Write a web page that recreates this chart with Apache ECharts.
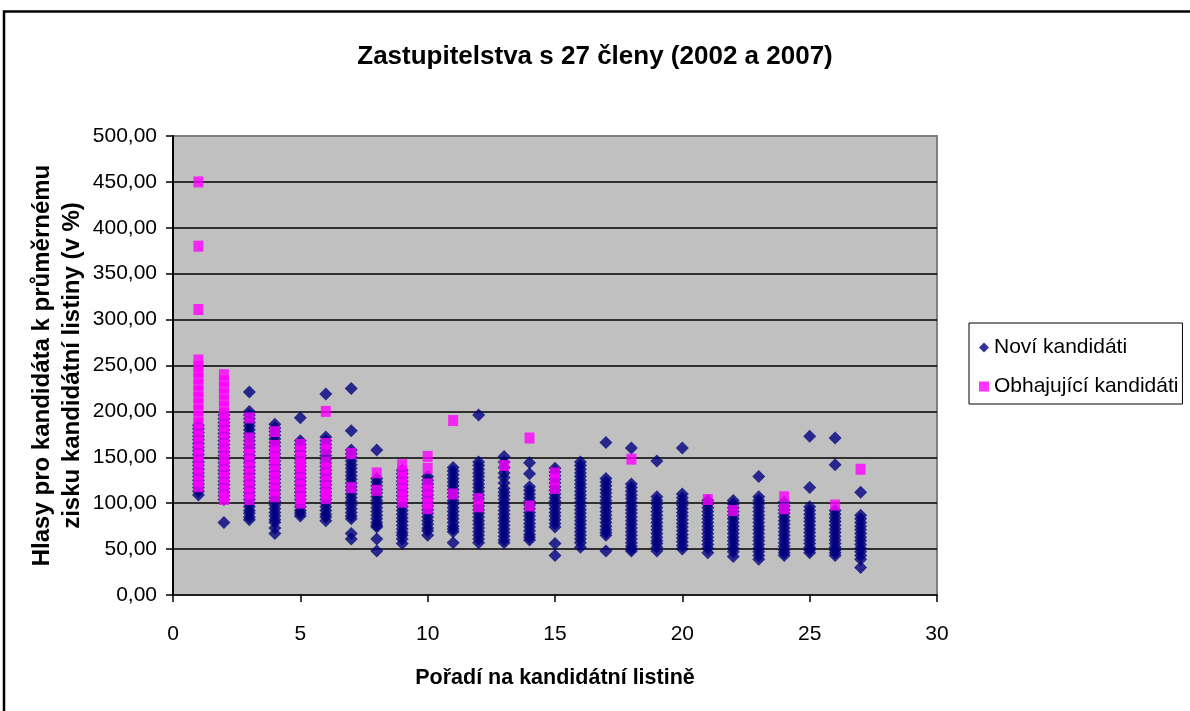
<!DOCTYPE html>
<html>
<head>
<meta charset="utf-8">
<script src="https://cdn.jsdelivr.net/npm/echarts@6/dist/echarts.min.js"></script>
<style>
  html, body { margin: 0; padding: 0; background: #fff; }
  #chart { width: 1190px; height: 711px; }
</style>
</head>
<body>
<div id="chart"></div>
<script>
// Position on the candidate list (x)
const positions = [1,2,3,4,5,6,7,8,9,10,11,12,13,14,15,16,17,18,19,20,21,22,23,24,25,26,27];

// Noví kandidáti — values per position (index i -> position i+1)
const noviKandidati = [
  [185,181,177,173,169,165,161,157,153,149,145,141,137,133,129,125,121,117,113,109],
  [196,192,188,184,180,176,172,168,164,160,156,152,148,144,140,136,132,128,124,120,116,112,108,104,79],
  [221,200,196,192,188,184,180,176,172,168,164,160,156,152,148,144,140,136,132,128,124,120,116,112,108,104,100,96,92,89,85,82],
  [186,182,178,174,170,166,162,158,154,150,146,142,138,134,130,126,122,118,114,110,106,102,98,94,90,86,82,79,73,67],
  [193,168,164,160,156,152,148,144,140,136,132,128,124,120,116,112,108,104,100,96,92,89,86],
  [219,172,168,164,160,156,152,148,144,140,136,132,128,124,120,116,112,108,104,100,96,92,88,85,81],
  [225,179,158,154,150,146,142,138,134,130,126,122,118,114,110,106,102,98,94,90,86,83,67,61],
  [158,127,123,119,115,111,107,103,99,95,91,87,83,79,76,74,61,48],
  [136,132,128,124,120,116,112,108,104,100,96,92,88,84,80,76,72,68,65,61,56],
  [129,125,121,117,113,109,105,101,97,93,89,85,81,77,73,70,65],
  [139,135,131,127,123,119,115,111,107,103,99,95,91,87,83,79,75,72,69,57],
  [196,145,141,137,133,129,125,121,117,113,109,105,101,97,93,89,85,81,77,73,69,65,61,57],
  [151,145,139,133,128,122,116,112,108,104,100,96,92,88,84,80,76,72,68,64,60,57],
  [144,132,118,114,110,106,102,98,94,90,86,82,78,74,70,66,63,60],
  [138,134,130,126,122,118,114,110,106,102,98,94,90,86,82,78,74,56,43],
  [145,141,137,133,129,125,121,117,113,109,105,101,97,93,89,85,81,77,73,69,65,61,57,52],
  [166,127,123,119,115,111,107,103,99,95,91,87,83,79,75,71,68,65,48],
  [160,121,117,113,109,105,101,97,93,89,85,81,77,73,69,65,61,57,53,50,48],
  [146,107,103,99,95,91,87,83,79,75,71,67,63,59,56,52,48],
  [160,110,106,102,98,94,90,86,82,78,74,70,66,62,58,54,50],
  [103,99,95,91,87,83,79,75,71,67,63,59,55,51,46],
  [103,99,95,91,87,83,79,75,71,67,63,59,55,51,47,42],
  [129,107,103,99,95,91,87,83,79,75,71,67,63,59,55,51,47,43,39],
  [101,97,93,89,85,81,77,73,69,65,61,57,53,49,46,43],
  [173,117,96,92,88,84,80,76,72,68,64,60,56,52,49,46],
  [171,142,92,88,84,80,76,72,68,64,60,56,52,49,46,43],
  [112,87,83,79,75,71,67,63,59,55,51,47,43,39,30]
];

// Obhajující kandidáti — values per position
const obhajujiciKandidati = [
  [450,380,311,256,249,243,236,229,222,215,208,201,194,187,180,173,166,159,152,145,138,131,124,118],
  [240,233,226,219,212,205,198,191,184,177,170,163,156,149,142,135,128,121,114,107,104],
  [193,171,160,153,146,139,132,125,118,111,104],
  [178,163,156,149,142,135,128,121,114,107],
  [164,157,150,143,140,133,126,119,112,105,100],
  [200,165,158,145,138,131,124,117,110,105],
  [154,117],
  [133,114],
  [142,135,128,121,114,107,101],
  [151,138,121,114,107,100,94],
  [190,110],
  [105,96],
  [141],
  [171,97],
  [133,126,116],
  [],
  [],
  [148],
  [],
  [],
  [104],
  [92],
  [],
  [107,94],
  [],
  [98],
  [137]
];

const seriesNames = ['Noví kandidáti', 'Obhajující kandidáti'];
const xTicks = { min: 0, max: 30, step: 5 };
const yTicks = { min: 0, max: 500, step: 50 };

function toPairs(lists) {
  const out = [];
  lists.forEach((vals, i) => vals.forEach(v => out.push([positions[i], v])));
  return out;
}

const FONT = "'Liberation Sans', Arial, sans-serif";
const chart = echarts.init(document.getElementById('chart'), null, { renderer: 'canvas' });

chart.setOption({
  backgroundColor: '#ffffff',
  animation: false,
  title: {
    text: 'Zastupitelstva s 27 členy (2002 a 2007)',
    left: 'center',
    top: 39,
    textStyle: { fontFamily: FONT, fontSize: 26, fontWeight: 'bold', color: '#000' }
  },
  graphic: [{
    type: 'rect',
    shape: { x: 4, y: 11.5, width: 1300, height: 800 },
    style: { fill: null, stroke: '#000', lineWidth: 2.5 },
    silent: true
  }],
  legend: {
    orient: 'vertical',
    left: 969,
    top: 323,
    padding: [14, 4, 7, 10],
    itemGap: 18,
    itemWidth: 10,
    itemHeight: 10,
    borderColor: '#000',
    borderWidth: 1,
    textStyle: { fontFamily: FONT, fontSize: 21, color: '#000' },
    data: [
      { name: seriesNames[0], icon: 'diamond' },
      { name: seriesNames[1], icon: 'rect' }
    ]
  },
  grid: {
    left: 173, top: 136, width: 764, height: 459,
    show: true,
    backgroundColor: '#C0C0C0',
    borderColor: '#808080',
    borderWidth: 2
  },
  xAxis: {
    type: 'value',
    min: xTicks.min, max: xTicks.max, interval: xTicks.step,
    name: 'Pořadí na kandidátní listině',
    nameLocation: 'middle',
    nameGap: 72,
    nameMoveOverlap: false,
    nameTextStyle: { fontFamily: FONT, fontSize: 21.5, fontWeight: 'bold', color: '#000' },
    axisLine: { show: true, onZero: false, lineStyle: { color: '#000', width: 1.5 } },
    axisTick: { show: true, length: 7, lineStyle: { color: '#000', width: 1.5 } },
    axisLabel: { margin: 29, fontFamily: FONT, fontSize: 21, color: '#000' },
    splitLine: { show: false }
  },
  yAxis: {
    type: 'value',
    min: yTicks.min, max: yTicks.max, interval: yTicks.step,
    name: 'Hlasy pro kandidáta k průměrnému\nzisku kandidátní listiny (v %)',
    nameLocation: 'middle',
    nameRotate: 90,
    nameGap: 116,
    nameMoveOverlap: false,
    nameTextStyle: { fontFamily: FONT, fontSize: 24, fontWeight: 'bold', color: '#000', lineHeight: 30, align: 'center', verticalAlign: 'middle' },
    axisLine: { show: true, onZero: false, lineStyle: { color: '#000', width: 2 } },
    axisTick: { show: true, length: 7, lineStyle: { color: '#000', width: 1.5 } },
    axisLabel: {
      margin: 16, fontFamily: FONT, fontSize: 21, color: '#000',
      formatter: v => v.toFixed(2).replace('.', ',')
    },
    splitLine: { show: true, showMaxLine: false, showMinLine: false, lineStyle: { color: '#000', width: 1.5 } }
  },
  series: [
    {
      name: seriesNames[0],
      type: 'scatter',
      symbol: 'diamond',
      symbolSize: [13, 13],
      itemStyle: { color: '#000080' },
      data: toPairs(noviKandidati)
    },
    {
      name: seriesNames[1],
      type: 'scatter',
      symbol: 'rect',
      symbolSize: [10, 11],
      itemStyle: { color: '#FF00FF' },
      data: toPairs(obhajujiciKandidati)
    }
  ]
});
</script>
</body>
</html>
